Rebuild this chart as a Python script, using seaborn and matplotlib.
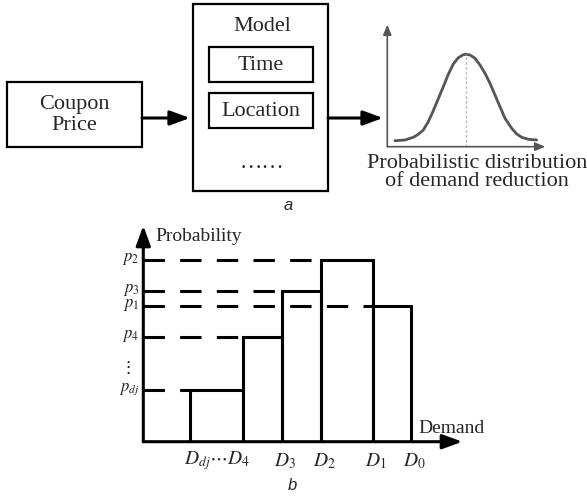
import numpy as np
import pandas as pd
import matplotlib
matplotlib.use("Agg")
import matplotlib.pyplot as plt
from matplotlib.patches import Rectangle
import seaborn as sns

# ---------------- data ----------------
# part b: demand levels (left/right edges of each step) and probabilities
step_labels = ["dj", "4", "3", "2", "1"]
demand_left = [47, 100, 139, 178, 230]      # D_dj, D4, D3, D2, D1
demand_right = [100, 139, 178, 230, 268]    # D4, D3, D2, D1, D0
probabilities = [52, 105, 151, 182, 136]    # p_dj, p4, p3, p2, p1
prob_labels = [r"$p_{dj}$", r"$p_4$", r"$p_3$", r"$p_2$", r"$p_1$"]
demand_tick_pos = [139, 178, 230, 268]
demand_tick_labels = [r"$D_3$", r"$D_2$", r"$D_1$", r"$D_0$"]

# part a: probabilistic distribution curve
gauss_x = [7.7, 17.7, 26.0, 31.0, 36.0, 41.0, 46.0, 51.0, 56.0, 61.0, 66.0, 71.0,
           76.0, 78.7, 82.7, 87.7, 92.7, 97.7, 102.7, 107.7, 112.7, 117.7, 124.4,
           129.4, 134.4, 141.0, 149.4]
gauss_y = [6.0, 6.7, 9.4, 12.4, 16.7, 25.0, 36.0, 48.0, 60.0, 72.4, 82.7, 89.0,
           92.0, 92.4, 91.7, 88.4, 81.7, 73.4, 63.4, 51.7, 40.0, 28.4, 18.4,
           12.7, 9.4, 7.4, 6.7]
gauss_mean = 79
gauss_peak = 92.4

# ---------------- style ----------------
sns.set_theme(style="white")
plt.rcParams["font.family"] = ["Liberation Serif", "DejaVu Serif"]
plt.rcParams["mathtext.fontset"] = "stix"

W, H = 587, 499
fig = plt.figure(figsize=(W / 100, H / 100), dpi=100)

# canvas in pixel coordinates for the block diagram
cv = fig.add_axes([0, 0, 1, 1])
cv.set_xlim(0, W)
cv.set_ylim(H, 0)
cv.axis("off")

def box(x0, y0, x1, y1, lw=1.6):
    cv.add_patch(Rectangle((x0, y0), x1 - x0, y1 - y0, fill=False,
                           edgecolor="black", lw=lw))

def harrow(ax, start, end, lw=2.2, color="black", hl=0.6, hw=0.22, ms=20):
    ax.annotate("", xy=end, xytext=start,
                arrowprops=dict(arrowstyle=f"-|>,head_length={hl},head_width={hw}",
                                lw=lw, color=color, shrinkA=0, shrinkB=0,
                                mutation_scale=ms),
                annotation_clip=False)

box(7, 82, 142, 147)
cv.text(74.5, 115, "Coupon\nPrice", ha="center", va="center", fontsize=16,
        linespacing=1.1)
harrow(cv, (142, 118), (190, 118))

box(193, 4, 328, 191)
cv.text(262, 26, "Model", ha="center", va="center", fontsize=16)
box(209, 47, 313, 82)
cv.text(261, 65, "Time", ha="center", va="center", fontsize=16)
box(209, 93, 313, 128)
cv.text(261, 111, "Location", ha="center", va="center", fontsize=16)
cv.text(262, 163, "……", ha="center", va="center", fontsize=16)
cv.text(288, 205, "a", ha="center", va="center", fontsize=12,
        family="Liberation Sans", style="italic")
harrow(cv, (328, 118), (383, 118))

cv.text(477, 163, "Probabilistic distribution", ha="center", va="center",
        fontsize=16)
cv.text(477, 182, "of demand reduction", ha="center", va="center", fontsize=16)
cv.text(292, 485, "b", ha="center", va="center", fontsize=12,
        family="Liberation Sans", style="italic")

# ---------------- mini distribution plot ----------------
ox, oy = 387.3, 146.7
mw, mh = 158, 122
am = fig.add_axes([ox / W, (H - oy) / H, mw / W, mh / H])
am.set_xlim(0, mw)
am.set_ylim(0, mh)
am.axis("off")
sns.lineplot(x=gauss_x, y=gauss_y, ax=am, color="#555555", lw=2.0,
             sort=False, estimator=None)
am.plot([gauss_mean, gauss_mean], [0, gauss_peak], color="#bbbbbb", lw=1.0,
        ls=(0, (2, 1.5)))
harrow(am, (0, 0), (mw, 0), lw=1.2, color="#555555", hl=0.6, hw=0.25, ms=10)
harrow(am, (0, 0), (0, mh), lw=1.2, color="#555555", hl=0.6, hw=0.25, ms=10)

# ---------------- part b step chart ----------------
bx, by = 143.3, 441.7
bw, bh = 319, 216
ab = fig.add_axes([bx / W, (H - by) / H, bw / W, bh / H])
ab.set_xlim(0, bw)
ab.set_ylim(0, bh)
ab.axis("off")

df = pd.DataFrame({"left": demand_left, "right": demand_right,
                   "p": probabilities, "label": prob_labels})
ab.bar(df["left"], df["p"], width=df["right"] - df["left"], align="edge",
       fill=False, edgecolor="black", lw=2.2, zorder=3)
for _, r in df.iterrows():
    ab.plot([0, r["left"]], [r["p"], r["p"]], color="black", lw=2.2,
            ls=(0, (7.0, 5.0)), zorder=2)
    ab.text(-4, r["p"] + 1, r["label"], ha="right", va="center", fontsize=12,
            color="#222222")
ab.text(-16, 74, r"$\vdots$", ha="center", va="center", fontsize=13)

harrow(ab, (0, 0), (bw, 0), lw=2.2)
harrow(ab, (0, 0), (0, bh), lw=2.2)

ab.text(12, 205, "Probability", ha="left", va="center", fontsize=14)
ab.text(275, 13, "Demand", ha="left", va="center", fontsize=14)
ab.text((demand_left[0] + demand_left[1]) / 2, -19,
        r"$D_{dj}\cdots D_4$", ha="center", va="center", fontsize=14)
for xp, lab in zip(demand_tick_pos, demand_tick_labels):
    ab.text(xp + 3, -19, lab, ha="center", va="center", fontsize=14)

fig.savefig("out.png", dpi=100)
